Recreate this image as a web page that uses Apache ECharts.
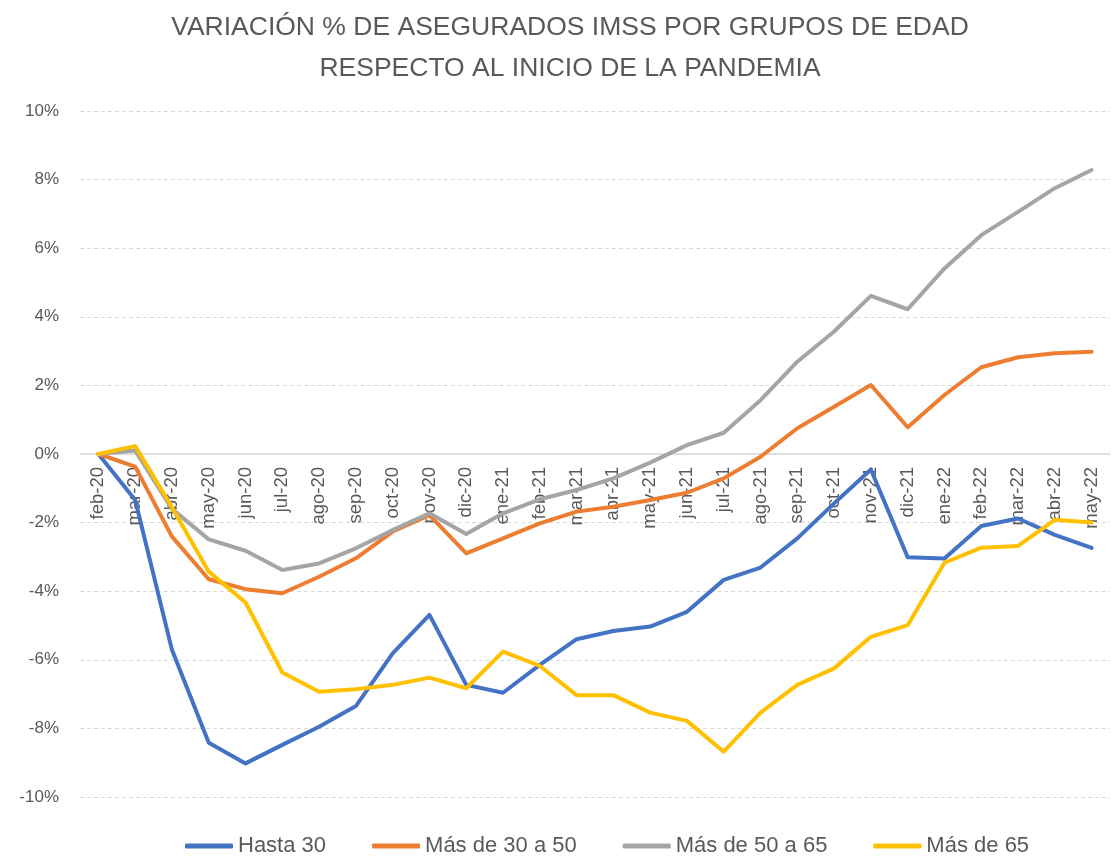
<!DOCTYPE html>
<html>
<head>
<meta charset="utf-8">
<title>Variación % de asegurados IMSS</title>
<script src="https://cdn.jsdelivr.net/npm/echarts@6/dist/echarts.min.js"></script>
<style>
  html, body { margin: 0; padding: 0; background: #fff; }
  #chart { width: 1112px; height: 858px; }
</style>
</head>
<body>
<div id="chart"></div>
<script>
const months = [
  "feb-20", "mar-20", "abr-20", "may-20", "jun-20", "jul-20", "ago-20",
  "sep-20", "oct-20", "nov-20", "dic-20", "ene-21", "feb-21", "mar-21",
  "abr-21", "may-21", "jun-21", "jul-21", "ago-21", "sep-21", "oct-21",
  "nov-21", "dic-21", "ene-22", "feb-22", "mar-22", "abr-22", "may-22",
];

const hasta30 = [
  0, -1.34, -5.71, -8.42, -9.02, -8.48, -7.95, -7.35, -5.81, -4.69, -6.73,
  -6.96, -6.15, -5.40, -5.16, -5.03, -4.60, -3.67, -3.31, -2.46, -1.44,
  -0.45, -3.01, -3.05, -2.10, -1.88, -2.36, -2.74,
];
const de30a50 = [
  0, -0.37, -2.41, -3.65, -3.94, -4.06, -3.58, -3.04, -2.26, -1.78, -2.90,
  -2.46, -2.02, -1.68, -1.54, -1.34, -1.13, -0.71, -0.08, 0.75, 1.38,
  2.01, 0.78, 1.72, 2.53, 2.82, 2.94, 2.98,
];
const de50a65 = [
  0, 0.10, -1.60, -2.49, -2.82, -3.38, -3.19, -2.75, -2.22, -1.73, -2.33,
  -1.73, -1.32, -1.05, -0.71, -0.25, 0.26, 0.62, 1.57, 2.69, 3.57,
  4.61, 4.22, 5.41, 6.38, 7.06, 7.75, 8.28,
];
const masDe65 = [
  0, 0.23, -1.55, -3.43, -4.33, -6.37, -6.93, -6.86, -6.73, -6.52, -6.83,
  -5.76, -6.18, -7.03, -7.03, -7.54, -7.78, -8.68, -7.54, -6.73, -6.25,
  -5.33, -4.99, -3.17, -2.73, -2.68, -1.92, -2.00,
];

const seriesNames = ["Hasta 30", "Más de 30 a 50", "Más de 50 a 65", "Más de 65"];
const seriesData = [hasta30, de30a50, de50a65, masDe65];
const colors = ["#4472C4", "#ED7D31", "#A5A5A5", "#FFC000"];

const yTicks = { min: -10, max: 10, interval: 2 };
const font = "'Liberation Sans', Arial, sans-serif";

// plot box
const gridTop = 111;
const gridBottom = 61;
const gridHeight = 858 - gridTop - gridBottom;
// move the category axis (line + labels) up to the 0% line, like Excel does
const zeroOffset = -gridHeight * (0 - yTicks.min) / (yTicks.max - yTicks.min);

const chart = echarts.init(document.getElementById("chart"), null, { renderer: "canvas" });

chart.setOption({
  animation: false,
  color: colors,
  title: {
    text: "VARIACIÓN % DE ASEGURADOS IMSS POR GRUPOS DE EDAD\nRESPECTO AL INICIO DE LA PANDEMIA",
    left: 565,
    textAlign: "center",
    top: 2,
    textStyle: {
      fontFamily: font,
      fontSize: 26.5,
      fontWeight: "normal",
      color: "#595959",
      lineHeight: 41,
    },
  },
  legend: {
    data: seriesNames,
    left: 180,
    top: 830,
    icon: "roundRect",
    itemWidth: 48,
    itemHeight: 5,
    itemGap: 46,
    textStyle: { fontFamily: font, fontSize: 22, color: "#595959" },
  },
  grid: {
    left: 80, right: 2, top: gridTop, bottom: gridBottom,
    containLabel: false, outerBoundsMode: "none",
  },
  xAxis: {
    type: "category",
    data: months,
    boundaryGap: true,
    position: "bottom",
    offset: zeroOffset,
    axisLine: { onZero: false, lineStyle: { color: "#D9D9D9", width: 1.5 } },
    axisTick: { show: false },
    axisLabel: {
      rotate: 90,
      interval: 0,
      margin: 13,
      fontFamily: font,
      fontSize: 18.5,
      color: "#595959",
    },
    splitLine: { show: false },
  },
  yAxis: {
    type: "value",
    min: yTicks.min,
    max: yTicks.max,
    interval: yTicks.interval,
    axisLine: { show: false },
    axisTick: { show: false },
    axisLabel: {
      margin: 21,
      fontFamily: font,
      fontSize: 17,
      color: "#595959",
      formatter: (v) => v + "%",
    },
    splitLine: { lineStyle: { color: "#D9D9D9", type: [4, 3], width: 1 } },
  },
  series: seriesNames.map((name, i) => ({
    name: name,
    type: "line",
    data: seriesData[i],
    showSymbol: false,
    symbol: "none",
    lineStyle: { width: 4, color: colors[i], cap: "round", join: "round" },
    itemStyle: { color: colors[i] },
    z: 2 + i,
  })),
});

window.addEventListener("resize", () => chart.resize());
</script>
</body>
</html>
